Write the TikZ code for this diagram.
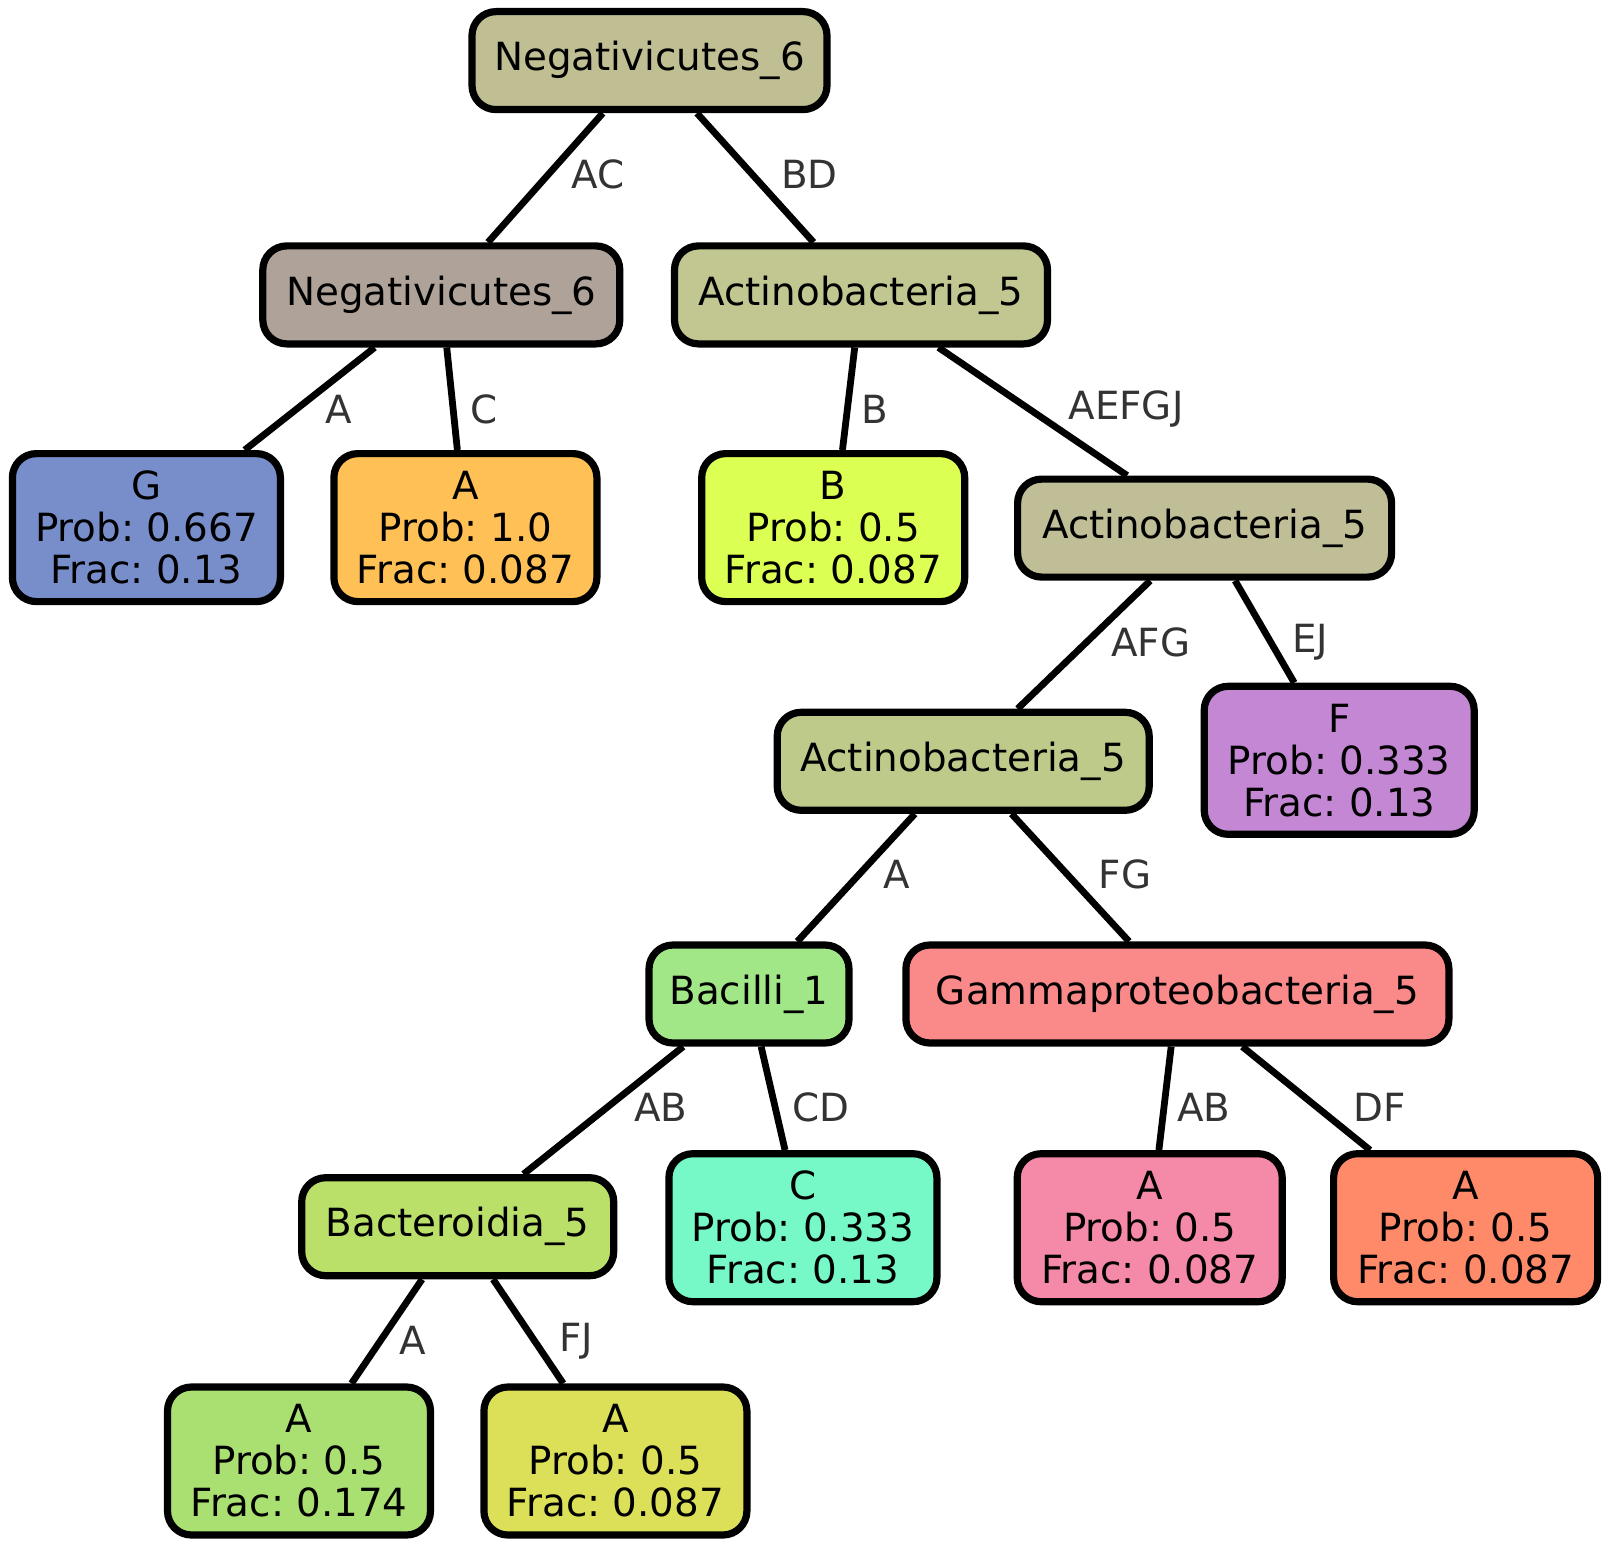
\documentclass[tikz,border=0pt]{standalone}
\usepackage{fontspec}
\setmainfont{DejaVu Sans}
\frenchspacing
\begin{document}
\begin{tikzpicture}[x=0.5pt,y=-0.5pt,
  box/.style={draw=black,line width=3.6pt,rounded corners=12pt,align=center,
    inner sep=0pt,font=\fontsize{19.4}{21}\selectfont,text=black},
  inner/.style={box,minimum height=49pt},
  leaf/.style={box,minimum height=74pt},
  edge/.style={line width=3.4pt,draw=black},
  elabel/.style={font=\fontsize{19.4}{21}\selectfont,text=black!80}]
\useasboundingbox (0,0) rectangle (1611,1546);
\definecolor{cRoot}{HTML}{C0BF93}
\definecolor{cNeg}{HTML}{AFA399}
\definecolor{cActA}{HTML}{C2C690}
\definecolor{cActB}{HTML}{BFBE97}
\definecolor{cActC}{HTML}{BECA8A}
\definecolor{cG}{HTML}{788ECA}
\definecolor{cAo}{HTML}{FFC155}
\definecolor{cB}{HTML}{DBFF52}
\definecolor{cF}{HTML}{C387D4}
\definecolor{cBac}{HTML}{A2E787}
\definecolor{cGam}{HTML}{FA8A89}
\definecolor{cBct}{HTML}{BAE06A}
\definecolor{cC}{HTML}{76F9C6}
\definecolor{cAp}{HTML}{F589A8}
\definecolor{cAs}{HTML}{FF8A6A}
\definecolor{cAg}{HTML}{AAE072}
\definecolor{cAy}{HTML}{DCE058}

% internal nodes
\node[inner,fill=cRoot,minimum width=177.5pt] (r) at (649.5,60.6) {Negativicutes\_6};
\node[inner,fill=cNeg,minimum width=178.5pt] (n2) at (441.3,294.9) {Negativicutes\_6};
\node[inner,fill=cActA,minimum width=186.5pt] (a2) at (861,294.9) {Actinobacteria\_5};
\node[inner,fill=cActB,minimum width=187pt] (a3) at (1204.6,528.1) {Actinobacteria\_5};
\node[inner,fill=cActC,minimum width=186pt] (a4) at (963.2,761.3) {Actinobacteria\_5};
\node[inner,fill=cBac,minimum width=100pt] (bac) at (749,994) {Bacilli\_1};
\node[inner,fill=cGam,minimum width=271.5pt] (gam) at (1177.4,994) {Gammaproteobacteria\_5};
\node[inner,fill=cBct,minimum width=156pt] (bct) at (457.7,1226.7) {Bacteroidia\_5};

% leaves
\node[leaf,fill=cG,minimum width=134pt] (g) at (146.4,527.6) {G\\Prob: 0.667\\Frac: 0.13};
\node[leaf,fill=cAo,minimum width=131.5pt] (ao) at (465.4,527.6) {A\\Prob: 1.0\\Frac: 0.087};
\node[leaf,fill=cB,minimum width=131.5pt] (b) at (833.2,527.6) {B\\Prob: 0.5\\Frac: 0.087};
\node[leaf,fill=cF,minimum width=135pt] (f) at (1339.2,760.3) {F\\Prob: 0.333\\Frac: 0.13};
\node[leaf,fill=cC,minimum width=134pt] (c) at (802.9,1227.7) {C\\Prob: 0.333\\Frac: 0.13};
\node[leaf,fill=cAp,minimum width=132.5pt] (ap) at (1149.7,1227.7) {A\\Prob: 0.5\\Frac: 0.087};
\node[leaf,fill=cAs,minimum width=132pt] (as) at (1465.6,1227.7) {A\\Prob: 0.5\\Frac: 0.087};
\node[leaf,fill=cAg,minimum width=131.5pt] (ag) at (299,1461) {A\\Prob: 0.5\\Frac: 0.174};
\node[leaf,fill=cAy,minimum width=131.5pt] (ay) at (615.4,1461) {A\\Prob: 0.5\\Frac: 0.087};

% connectors
\draw[edge] (r) -- (n2);
\draw[edge] (r) -- (a2);
\draw[edge] (n2) -- (g);
\draw[edge] (n2) -- (ao);
\draw[edge] (a2) -- (b);
\draw[edge] (a2) -- (a3);
\draw[edge] (a3) -- (a4);
\draw[edge] (a3) -- (f);
\draw[edge] (a4) -- (bac);
\draw[edge] (a4) -- (gam);
\draw[edge] (bac) -- (bct);
\draw[edge] (bac) -- (c);
\draw[edge] (gam) -- (ap);
\draw[edge] (gam) -- (as);
\draw[edge] (bct) -- (ag);
\draw[edge] (bct) -- (ay);

% connector labels
\node[elabel] (lAC) at (598,174.7) {AC};
\node[elabel] (lBD) at (809.6,174.7) {BD};
\node[elabel] (lA1) at (339,409) {A};
\node[elabel] (lC1) at (484,409) {C};
\node[elabel] (lB1) at (874.3,409) {B};
\node[elabel] (lAEFGJ) at (1126,409) {AEFGJ};
\node[elabel] (lAFG) at (1150.7,642) {AFG};
\node[elabel] (lEJ) at (1310,642) {EJ};
\node[elabel] (lA2) at (897,874.3) {A};
\node[elabel] (lFG) at (1125,874.3) {FG};
\node[elabel] (lAB1) at (660.6,1107.5) {AB};
\node[elabel] (lCD) at (821,1107.5) {CD};
\node[elabel] (lAB2) at (1204,1107.5) {AB};
\node[elabel] (lDF) at (1380,1107.5) {DF};
\node[elabel] (lA3) at (413,1340.8) {A};
\node[elabel] (lFJ) at (576.4,1340.8) {FJ};
\end{tikzpicture}
\end{document}
